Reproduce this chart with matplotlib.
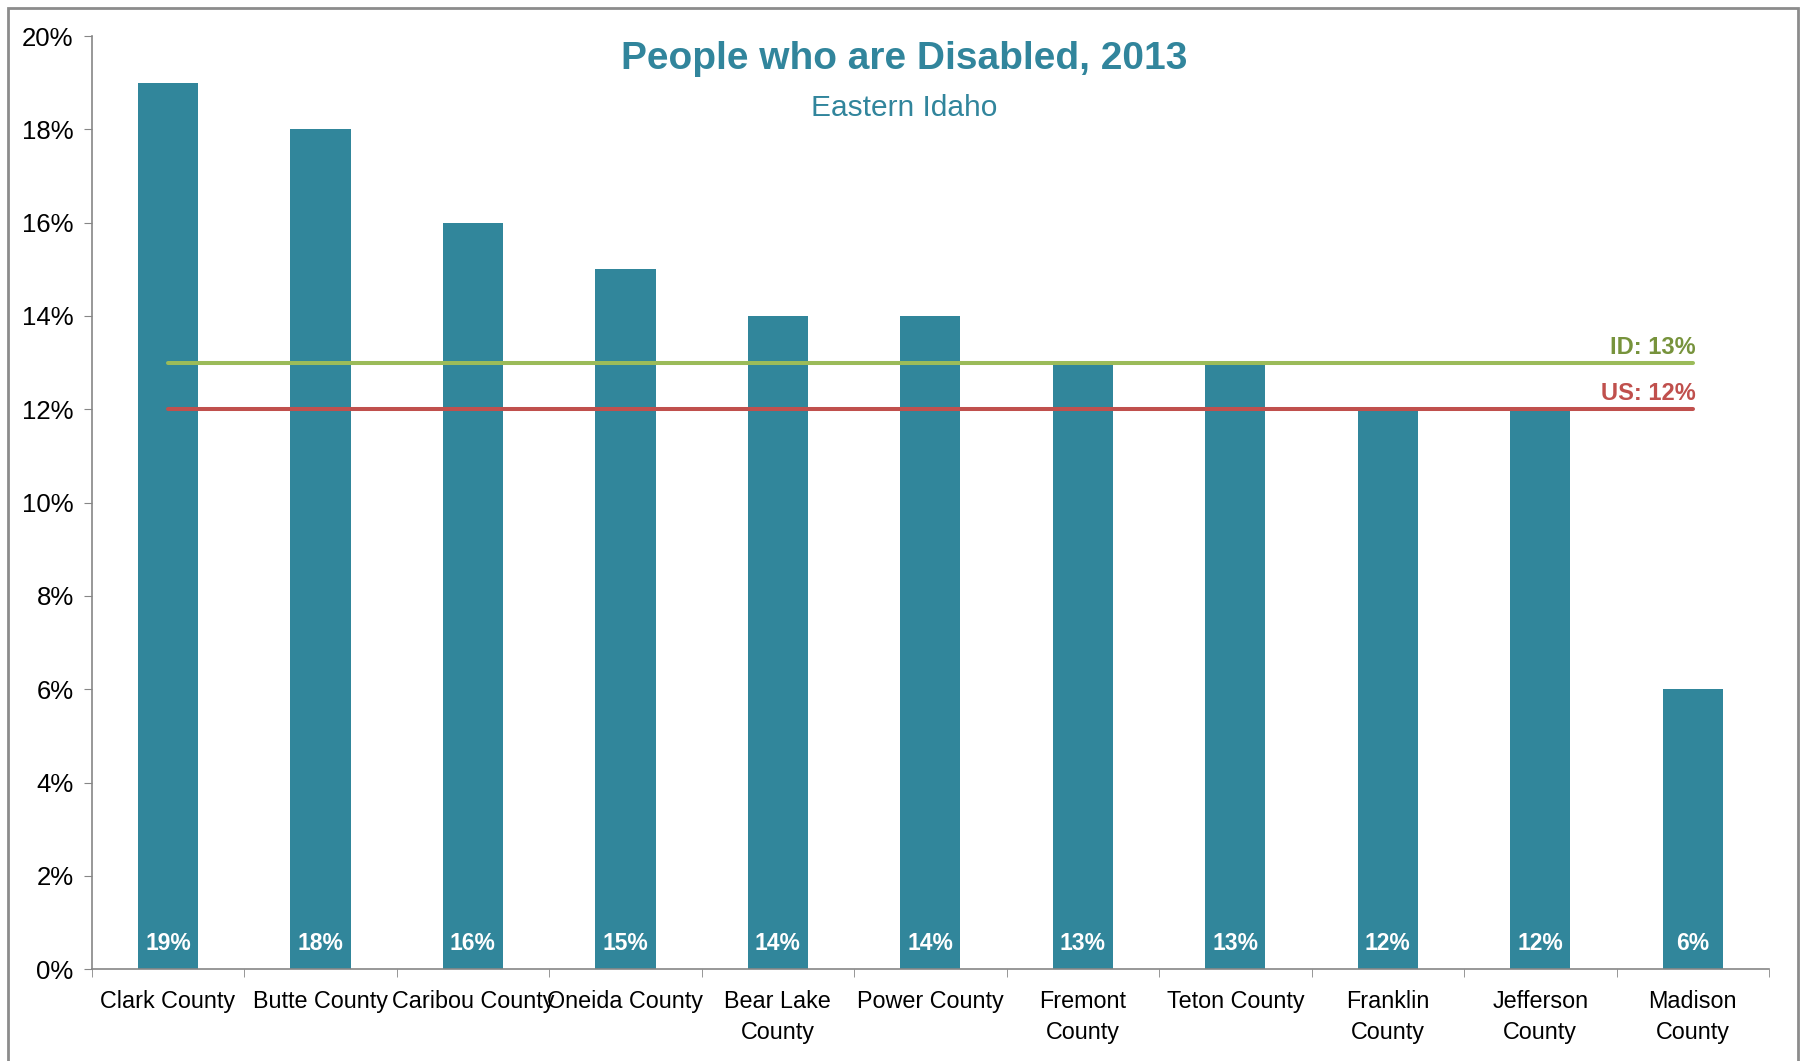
import matplotlib
matplotlib.use("Agg")
import matplotlib.pyplot as plt
from matplotlib.patches import Rectangle
from matplotlib.ticker import FuncFormatter, FixedLocator

plt.rcParams['font.family'] = ['Liberation Sans', 'DejaVu Sans']

categories = ["Clark County", "Butte County", "Caribou County", "Oneida County",
              "Bear Lake\nCounty", "Power County", "Fremont\nCounty", "Teton County",
              "Franklin\nCounty", "Jefferson\nCounty", "Madison\nCounty"]
values = [19, 18, 16, 15, 14, 14, 13, 13, 12, 12, 6]
id_rate = 13
us_rate = 12
y_ticks = [0, 2, 4, 6, 8, 10, 12, 14, 16, 18, 20]

bar_color = "#31869B"
green = "#9BBB59"
green_text = "#77933C"
red = "#C0504D"
axis_gray = "#868686"

W, H = 1801, 1061
fig = plt.figure(figsize=(W / 100, H / 100), dpi=100)
ax = fig.add_axes([91.7 / W, (H - 969.3) / H, (1769 - 91.7) / W, (969.3 - 36) / H])

n = len(categories)
x = list(range(n))
ax.bar(x, values, width=0.395, color=bar_color, zorder=2)

ax.plot([x[0], x[-1]], [id_rate, id_rate], color=green, lw=2.9, solid_capstyle='round', zorder=3)
ax.plot([x[0], x[-1]], [us_rate, us_rate], color=red, lw=2.9, solid_capstyle='round', zorder=3)
ax.text(x[-1] + 0.02, id_rate + 0.19, f"ID: {id_rate}%", color=green_text, fontsize=17,
        fontweight='bold', ha='right', va='baseline', zorder=4)
ax.text(x[-1] + 0.02, us_rate + 0.19, f"US: {us_rate}%", color=red, fontsize=17,
        fontweight='bold', ha='right', va='baseline', zorder=4)

for xi, v in zip(x, values):
    ax.text(xi, 0.56, f"{v}%", color="white", fontsize=16.5, fontweight='bold',
            ha='center', va='center', zorder=4)

ax.set_xlim(-0.5, n - 0.5)
ax.set_ylim(0, 20)
ax.set_yticks(y_ticks)
ax.yaxis.set_major_formatter(FuncFormatter(lambda v, p: f"{int(v)}%"))
ax.tick_params(axis='y', labelsize=18.5, length=5.5, color=axis_gray, direction='out', pad=7.5)

ax.set_xticks(x)
ax.set_xticklabels(categories, fontsize=16.8, linespacing=1.42)
ax.tick_params(axis='x', which='major', length=0, pad=15)
ax.xaxis.set_minor_locator(FixedLocator([i - 0.5 for i in range(n + 1)]))
ax.tick_params(axis='x', which='minor', length=6, color=axis_gray, direction='out')

for s in ['top', 'right']:
    ax.spines[s].set_visible(False)
for s in ['left', 'bottom']:
    ax.spines[s].set_color(axis_gray)
    ax.spines[s].set_linewidth(1.2)

fig.text(904 / W, 1 - 69 / H, "People who are Disabled, 2013", color="#31859C", fontsize=28,
         fontweight='bold', ha='center', va='baseline')
fig.text(904 / W, 1 - 116 / H, "Eastern Idaho", color="#31859C", fontsize=21.5,
         ha='center', va='baseline')

border = Rectangle((8 / W, -0.05), (1798 - 8) / W, 1 + 0.05 - 8 / H,
                   transform=fig.transFigure, fill=False, edgecolor="#8C8C8C", lw=2)
fig.patches.append(border)

fig.savefig("out.png", dpi=100)
